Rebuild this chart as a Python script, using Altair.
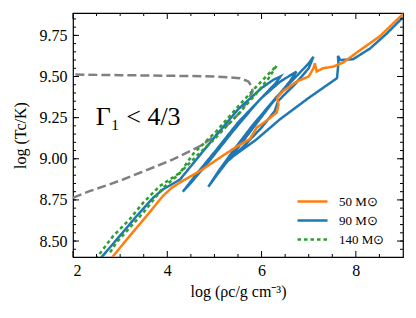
import altair as alt
import pandas as pd

# ---------------- data ----------------
m50_x = [2.80, 3.20, 3.56, 3.91, 4.10, 4.35, 4.72, 5.08, 5.45, 5.75, 5.90, 6.05, 6.32, 6.36, 6.33, 6.45,
         6.75, 7.00, 7.10, 7.13, 7.17, 7.30, 7.52, 7.73, 8.09, 8.51, 9.00]
m50_y = [8.39, 8.53, 8.652, 8.775, 8.825, 8.87, 8.93, 9.00, 9.07, 9.12, 9.19, 9.22, 9.28, 9.33, 9.37, 9.41,
         9.47, 9.50, 9.55, 9.58, 9.53, 9.55, 9.56, 9.585, 9.66, 9.745, 9.88]

m90_x = [2.57, 2.99, 3.35, 3.70, 3.91, 4.27, 4.60, 5.00, 5.50, 6.00, 6.25, 6.40,
         6.30, 5.90, 5.40, 4.90, 4.55, 4.33,
         4.60, 5.00, 5.50, 6.00, 6.40, 6.74,
         6.60, 6.20, 5.80, 5.40, 5.10, 4.87,
         5.10, 5.40, 5.80, 6.30, 6.70, 7.00, 7.10,
         7.00, 6.70, 6.45, 6.35, 6.28, 6.00, 5.60, 5.30,
         5.40, 5.89, 6.39, 7.00, 7.60, 7.63, 7.62, 7.67, 7.94, 8.30, 8.65, 9.00]
m90_y = [8.39, 8.53, 8.652, 8.763, 8.814, 8.874, 8.99, 9.13, 9.30, 9.43, 9.48, 9.50,
         9.46, 9.34, 9.17, 8.99, 8.87, 8.80,
         8.90, 9.04, 9.22, 9.37, 9.47, 9.53,
         9.47, 9.33, 9.18, 9.03, 8.92, 8.83,
         8.93, 9.05, 9.20, 9.37, 9.49, 9.58, 9.62,
         9.55, 9.45, 9.38, 9.35, 9.29, 9.19, 9.07, 8.99,
         9.016, 9.117, 9.24, 9.37, 9.49, 9.58, 9.625, 9.60, 9.605, 9.67, 9.76, 9.86]

m140_x = [2.48, 2.85, 3.20, 3.49, 3.84, 4.27, 4.55, 4.80, 5.05, 5.29, 5.54, 5.86, 6.13, 6.32,
          6.15, 5.90, 5.50, 5.00, 4.69, 4.48, 4.20, 3.91, 3.66, 3.49, 3.20, 2.92, 2.76]
m140_y = [8.39, 8.53, 8.632, 8.733, 8.834, 8.915, 9.03, 9.10, 9.17, 9.249, 9.33, 9.43, 9.51, 9.566,
          9.49, 9.40, 9.27, 9.12, 9.036, 8.976, 8.894, 8.824, 8.733, 8.672, 8.58, 8.49, 8.42]

gamma_x = [2.00, 2.35, 2.71, 3.06, 3.42, 3.77, 4.12, 4.48, 4.76, 5.04, 5.26, 5.40, 5.54, 5.68, 5.81,
           5.79, 5.72, 5.54, 5.00, 4.00, 3.00, 2.00]
gamma_y = [8.763, 8.803, 8.838, 8.874, 8.915, 8.955, 8.996, 9.046, 9.087, 9.147, 9.20, 9.24, 9.28, 9.34, 9.41,
           9.44, 9.47, 9.49, 9.50, 9.505, 9.508, 9.512]

labels = ["50 M\u2299", "90 M\u2299", "140 M\u2299"]
colors = ["#ff7f0e", "#1f77b4", "#2ca02c"]
dashes = [[1, 0], [1, 0], [3.5, 3]]

x_major = [2, 4, 6, 8]
x_minor = [2.5, 3, 3.5, 4.5, 5, 5.5, 6.5, 7, 7.5, 8.5]
y_major = [8.50, 8.75, 9.00, 9.25, 9.50, 9.75]
y_minor = [round(8.45 + 0.05 * i, 2) for i in range(29)]

annot_text = ["\u0393\u2081 < 4/3"]
annot_x = [2.48]
annot_y = [9.205]

XDOM = [2, 9]
YDOM = [8.403, 9.886]
W, H = 330, 244
FONT = "Liberation Serif"

# ---------------- build ----------------
def track(xs, ys, name):
    return pd.DataFrame({"x": xs, "y": ys, "mass": name, "i": range(len(xs))})

xs = alt.Scale(domain=XDOM, nice=False, zero=False)
ys = alt.Scale(domain=YDOM, nice=False, zero=False)

color_scale = alt.Scale(domain=labels, range=colors)
dash_scale = alt.Scale(domain=labels, range=dashes)

legend = alt.Legend(
    title=None, orient="none", legendX=228, legendY=177,
    symbolType="M-1.5,0H1.5", symbolSize=400, symbolStrokeWidth=2.5, symbolFillColor="transparent",
    labelFont=FONT, labelFontSize=13, labelOffset=15, rowPadding=0, padding=0,
)

xaxis = alt.Axis(values=x_major, format="d", title="log (\u03c1c/g cm\u207b\u00b3)", titlePadding=5)
yaxis = alt.Axis(values=y_major, format=".2f", title="log (Tc/K)", titlePadding=11, labelPadding=6)

def line_layer(xs_, ys_, name, legend_obj=None):
    df = track(xs_, ys_, name)
    return alt.Chart(df).mark_line(strokeWidth=2.5, clip=True, strokeCap="butt").encode(
        x=alt.X("x:Q", scale=xs, axis=xaxis),
        y=alt.Y("y:Q", scale=ys, axis=yaxis),
        order="i:Q",
        color=alt.Color("mass:N", scale=color_scale, legend=legend_obj),
        strokeDash=alt.StrokeDash("mass:N", scale=dash_scale, legend=legend_obj),
    )

gamma_df = pd.DataFrame({"x": gamma_x, "y": gamma_y, "i": range(len(gamma_x))})
gamma = alt.Chart(gamma_df).mark_line(strokeWidth=2.5, color="#808080", strokeDash=[9, 4], clip=True).encode(
    x=alt.X("x:Q", scale=xs, axis=xaxis), y=alt.Y("y:Q", scale=ys, axis=yaxis), order="i:Q")

l90 = line_layer(m90_x, m90_y, labels[1], legend)
l140 = line_layer(m140_x, m140_y, labels[2], legend)
l50 = line_layer(m50_x, m50_y, labels[0], legend)

annot = alt.Chart(pd.DataFrame({"x": annot_x, "y": annot_y, "t": annot_text})).mark_text(
    font=FONT, fontSize=26, align="left", baseline="alphabetic", color="black"
).encode(x=alt.X("x:Q", scale=xs, axis=xaxis), y=alt.Y("y:Q", scale=ys, axis=yaxis), text="t:N")

# ticks (inward, all four sides)
def xticks(vals, length):
    df = pd.DataFrame({"v": vals})
    base = alt.Chart(df).mark_rule(color="black", strokeWidth=1)
    bot = base.encode(x=alt.X("v:Q", scale=xs, axis=xaxis), y=alt.value(H), y2=alt.value(H - length))
    top = base.encode(x=alt.X("v:Q", scale=xs, axis=xaxis), y=alt.value(0), y2=alt.value(length))
    return [bot, top]

def yticks(vals, length):
    df = pd.DataFrame({"v": vals})
    base = alt.Chart(df).mark_rule(color="black", strokeWidth=1)
    lef = base.encode(y=alt.Y("v:Q", scale=ys, axis=yaxis), x=alt.value(0), x2=alt.value(length))
    rig = base.encode(y=alt.Y("v:Q", scale=ys, axis=yaxis), x=alt.value(W), x2=alt.value(W - length))
    return [lef, rig]

tick_layers = xticks(x_major, 6) + xticks(x_minor, 3) + yticks(y_major, 6) + yticks(y_minor, 3)

chart = alt.layer(
    gamma, l90, l140, l50, annot, *tick_layers
).resolve_scale(color="shared", strokeDash="shared").properties(
    width=W, height=H,
    autosize=alt.AutoSizeParams(type="none"),
    padding={"left": 65, "top": 5, "right": 5, "bottom": 50},
).configure(background="white", font=FONT).configure_view(
    stroke="black", strokeWidth=1.2
).configure_axis(
    ticks=False, domain=False, grid=False,
    labelFont=FONT, labelFontSize=16, labelPadding=5, labelColor="black",
    titleFont=FONT, titleFontSize=16, titleFontWeight="normal", titleColor="black",
).configure_legend(labelFont=FONT)

chart.save("out.html", embed_options={"renderer": "svg", "actions": False})
